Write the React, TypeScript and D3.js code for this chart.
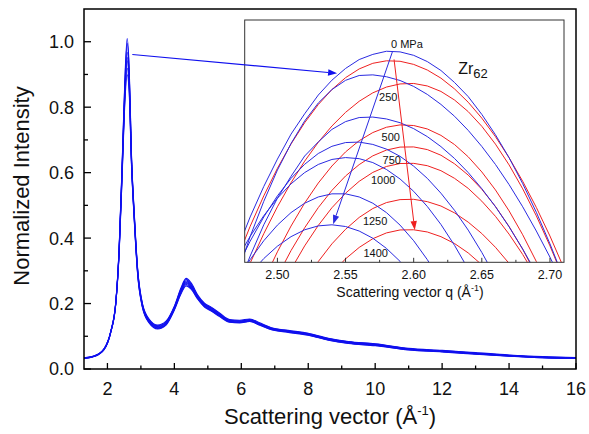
import React, { useEffect, useRef } from "react";
import * as d3 from "d3";

// main panel: scattering vector grid and normalized intensity for each pressure
const qMain = [1.3, 1.6, 1.9, 2.1, 2.25, 2.35, 2.45, 2.52, 2.59, 2.65, 2.72, 2.8, 2.9, 3.05, 3.25, 3.5, 3.75, 4.0, 4.2, 4.35, 4.5, 4.7, 4.9, 5.1, 5.35, 5.65, 5.95, 6.25, 6.55, 6.9, 7.4, 8.0, 8.6, 9.2, 10, 11, 12, 13, 14, 15, 16];
const main0 = [0.034, 0.040, 0.062, 0.115, 0.205, 0.370, 0.660, 0.880, 1.010, 0.920, 0.650, 0.480, 0.310, 0.198, 0.152, 0.134, 0.146, 0.192, 0.248, 0.277, 0.263, 0.226, 0.201, 0.189, 0.171, 0.151, 0.149, 0.153, 0.141, 0.126, 0.118, 0.109, 0.094, 0.084, 0.077, 0.063, 0.057, 0.050, 0.043, 0.038, 0.035];
const main250 = [0.034, 0.040, 0.062, 0.115, 0.204, 0.368, 0.655, 0.870, 0.995, 0.910, 0.645, 0.476, 0.307, 0.196, 0.150, 0.132, 0.144, 0.190, 0.245, 0.273, 0.259, 0.223, 0.199, 0.187, 0.169, 0.149, 0.147, 0.151, 0.139, 0.125, 0.117, 0.108, 0.093, 0.083, 0.076, 0.062, 0.056, 0.049, 0.042, 0.037, 0.034];
const main500 = [0.033, 0.039, 0.061, 0.114, 0.203, 0.365, 0.648, 0.855, 0.968, 0.895, 0.640, 0.472, 0.304, 0.194, 0.148, 0.130, 0.142, 0.188, 0.242, 0.269, 0.256, 0.221, 0.197, 0.185, 0.167, 0.148, 0.146, 0.150, 0.138, 0.124, 0.116, 0.107, 0.092, 0.082, 0.075, 0.061, 0.055, 0.048, 0.041, 0.036, 0.034];
const main750 = [0.033, 0.039, 0.061, 0.114, 0.202, 0.362, 0.642, 0.845, 0.952, 0.882, 0.635, 0.468, 0.301, 0.192, 0.146, 0.128, 0.140, 0.186, 0.239, 0.265, 0.253, 0.219, 0.195, 0.183, 0.165, 0.146, 0.144, 0.148, 0.137, 0.123, 0.115, 0.106, 0.091, 0.081, 0.074, 0.060, 0.054, 0.047, 0.041, 0.036, 0.033];
const main1000 = [0.033, 0.039, 0.060, 0.113, 0.201, 0.360, 0.636, 0.838, 0.942, 0.872, 0.630, 0.465, 0.298, 0.190, 0.144, 0.126, 0.138, 0.184, 0.236, 0.262, 0.250, 0.217, 0.193, 0.181, 0.163, 0.145, 0.143, 0.147, 0.136, 0.122, 0.114, 0.105, 0.090, 0.080, 0.073, 0.060, 0.054, 0.047, 0.040, 0.035, 0.033];
const main1250 = [0.033, 0.038, 0.060, 0.113, 0.200, 0.357, 0.628, 0.825, 0.919, 0.858, 0.625, 0.461, 0.295, 0.188, 0.142, 0.124, 0.136, 0.182, 0.233, 0.258, 0.247, 0.215, 0.191, 0.179, 0.162, 0.144, 0.142, 0.146, 0.135, 0.121, 0.113, 0.104, 0.089, 0.079, 0.072, 0.059, 0.053, 0.046, 0.040, 0.035, 0.032];
const main1400 = [0.032, 0.038, 0.059, 0.112, 0.199, 0.354, 0.620, 0.812, 0.899, 0.845, 0.620, 0.458, 0.292, 0.186, 0.140, 0.122, 0.134, 0.180, 0.230, 0.254, 0.244, 0.213, 0.189, 0.177, 0.160, 0.143, 0.141, 0.145, 0.134, 0.120, 0.112, 0.103, 0.088, 0.078, 0.071, 0.058, 0.052, 0.045, 0.039, 0.034, 0.032];

// inset: first peak, compression (blue) and decompression (red)
const qInset = [2.47, 2.48, 2.49, 2.50, 2.51, 2.52, 2.53, 2.54, 2.55, 2.56, 2.57, 2.58, 2.59, 2.60, 2.61, 2.62, 2.63, 2.64, 2.65, 2.66, 2.67, 2.68, 2.69, 2.70, 2.71, 2.72];
const blue0 = [0.882, 0.904, 0.9235, 0.941, 0.957, 0.970, 0.982, 0.9915, 0.999, 1.0047, 1.008, 1.010, 1.0096, 1.0074, 1.0034, 0.9977, 0.990, 0.981, 0.9696, 0.9566, 0.9419, 0.9253, 0.907, 0.8868, 0.8648, 0.841];
const blue250 = [0.866, 0.8915, 0.914, 0.934, 0.951, 0.9654, 0.9769, 0.9855, 0.9914, 0.9945, 0.9949, 0.9937, 0.9913, 0.9875, 0.9824, 0.976, 0.9684, 0.9594, 0.9491, 0.9376, 0.9247, 0.9105, 0.895, 0.8783, 0.8602, 0.8408];
const blue500 = [0.857, 0.879, 0.899, 0.916, 0.930, 0.943, 0.952, 0.960, 0.965, 0.9676, 0.9679, 0.9667, 0.9643, 0.9605, 0.9554, 0.949, 0.9414, 0.9324, 0.9221, 0.9106, 0.8977, 0.8835, 0.868, 0.8513, 0.833, 0.814];
const blue750 = [0.871, 0.8885, 0.904, 0.9175, 0.9287, 0.9377, 0.9446, 0.9492, 0.9516, 0.9519, 0.9504, 0.9474, 0.9428, 0.9365, 0.9287, 0.9192, 0.9082, 0.8956, 0.8813, 0.8655, 0.848, 0.829, 0.8084, 0.786, 0.762, 0.737];
const blue1000 = [0.8764, 0.8916, 0.9048, 0.916, 0.9252, 0.9324, 0.9376, 0.9408, 0.942, 0.9413, 0.9388, 0.9344, 0.9283, 0.9204, 0.9107, 0.8992, 0.8858, 0.8707, 0.8538, 0.835, 0.8146, 0.792, 0.768, 0.742, 0.7145, 0.685];
const blue1250 = [0.8627, 0.8767, 0.8888, 0.8988, 0.9068, 0.9128, 0.9168, 0.9188, 0.9188, 0.9168, 0.9128, 0.9068, 0.8988, 0.8888, 0.8767, 0.8627, 0.8468, 0.8288, 0.8088, 0.7868, 0.7628, 0.7368, 0.7088, 0.6788, 0.6468, 0.6128];
const blue1400 = [0.8562, 0.8677, 0.8774, 0.8853, 0.8914, 0.8958, 0.8983, 0.899, 0.8979, 0.895, 0.8904, 0.8839, 0.8756, 0.8655, 0.8536, 0.84, 0.8245, 0.807, 0.788, 0.767, 0.7446, 0.72, 0.6938, 0.6657, 0.6358, 0.6042];
const red0 = [0.8763, 0.898, 0.9175, 0.9351, 0.9507, 0.9643, 0.9759, 0.9855, 0.9931, 0.9987, 1.0023, 1.0039, 1.0036, 1.0016, 0.998, 0.9928, 0.9859, 0.9774, 0.9672, 0.9554, 0.9419, 0.9268, 0.9101, 0.8918, 0.8717, 0.8501];
const red250 = [0.854, 0.8745, 0.8933, 0.9105, 0.9259, 0.9397, 0.9518, 0.9622, 0.9709, 0.978, 0.9834, 0.9871, 0.9891, 0.9894, 0.9878, 0.9843, 0.9788, 0.9714, 0.962, 0.9506, 0.9373, 0.922, 0.9047, 0.8855, 0.8644, 0.8412];
const red500 = [0.8208, 0.843, 0.8633, 0.8817, 0.8982, 0.9129, 0.9257, 0.9366, 0.9456, 0.9528, 0.958, 0.9614, 0.9629, 0.9625, 0.9603, 0.9562, 0.9503, 0.9425, 0.9328, 0.9213, 0.9079, 0.8926, 0.8755, 0.8565, 0.8357, 0.813];
const red750 = [0.8057, 0.8276, 0.8477, 0.866, 0.8825, 0.8971, 0.91, 0.921, 0.9302, 0.9375, 0.9431, 0.9468, 0.9487, 0.9488, 0.9471, 0.9435, 0.938, 0.9308, 0.9217, 0.9107, 0.8979, 0.8833, 0.8668, 0.8485, 0.8284, 0.8064];
const red1000 = [0.792, 0.8144, 0.835, 0.8537, 0.8705, 0.8855, 0.8986, 0.9099, 0.9192, 0.9268, 0.9325, 0.9363, 0.9382, 0.9383, 0.9368, 0.9336, 0.9287, 0.9223, 0.9141, 0.9044, 0.893, 0.88, 0.8653, 0.849, 0.831, 0.8114];
const red1250 = [0.7689, 0.7913, 0.8119, 0.8306, 0.8474, 0.8624, 0.8755, 0.8868, 0.8961, 0.9037, 0.9094, 0.9132, 0.9151, 0.9153, 0.9138, 0.911, 0.9066, 0.9007, 0.8934, 0.8846, 0.8743, 0.8626, 0.8493, 0.8346, 0.8184, 0.8007];
const red1400 = [0.7527, 0.7746, 0.7947, 0.813, 0.8295, 0.8441, 0.857, 0.868, 0.8772, 0.8845, 0.8901, 0.8938, 0.8957, 0.8958, 0.8944, 0.8914, 0.887, 0.881, 0.8734, 0.8644, 0.8538, 0.8417, 0.8281, 0.813, 0.7964, 0.7782];

// pressure labels inside the inset (inset data coords)
const pressureLabels = ["0 MPa", "250", "500", "750", "1000", "1250", "1400"];
const labelQ = [2.595, 2.5813, 2.5832, 2.5839, 2.5776, 2.5717, 2.5721];
const labelI = [1.0146, 0.9807, 0.9553, 0.9404, 0.9276, 0.9014, 0.881];

const mainTicksX = [2, 4, 6, 8, 10, 12, 14, 16];
const mainMinorX = [3, 5, 7, 9, 11, 13, 15];
const mainTicksY = [0, 0.2, 0.4, 0.6, 0.8, 1.0];
const mainMinorY = [0.1, 0.3, 0.5, 0.7, 0.9];
const insetTicksX = [2.5, 2.55, 2.6, 2.65, 2.7];
const insetMinorX = [2.525, 2.575, 2.625, 2.675];

export default function App() {
  const svgRef = useRef<SVGSVGElement | null>(null);

  useEffect(() => {
    const W = 589;
    const H = 434;
    const font = "'Liberation Sans', Arial, sans-serif";
    const svg = d3.select(svgRef.current);
    svg.selectAll("*").remove();

    const margin = { top: 9, right: 13, bottom: 65, left: 84 };
    const x = d3.scaleLinear().domain([1.3, 16]).range([margin.left, W - margin.right]);
    const y = d3.scaleLinear().domain([0, 1.1]).range([H - margin.bottom, margin.top]);

    const blue = "#1010ee";
    const blueInset = "#2a2ae0";
    const redInset = "#ee2020";

    svg.append("rect").attr("width", W).attr("height", H).attr("fill", "#fff");

    // main curves
    const mainSeries = [main0, main250, main500, main750, main1000, main1250, main1400];
    const line = d3.line<number>()
      .x((d, i) => x(qMain[i]))
      .y((d) => y(d))
      .curve(d3.curveMonotoneX);
    svg.append("g").selectAll("path")
      .data(mainSeries)
      .join("path")
      .attr("d", (d) => line(d))
      .attr("fill", "none")
      .attr("stroke", blue)
      .attr("stroke-width", 1.1);

    // main frame and ticks
    const x0 = margin.left, x1 = W - margin.right, y0 = H - margin.bottom, y1 = margin.top;
    svg.append("rect")
      .attr("x", x0).attr("y", y1).attr("width", x1 - x0).attr("height", y0 - y1)
      .attr("fill", "none").attr("stroke", "#000").attr("stroke-width", 1.5);

    const axis = svg.append("g").attr("stroke", "#000").attr("stroke-width", 1.3);
    axis.selectAll(".mx").data(mainTicksX).join("line")
      .attr("x1", (d) => x(d)).attr("x2", (d) => x(d)).attr("y1", y0).attr("y2", y0 - 6);
    axis.selectAll(".mmx").data(mainMinorX).join("line")
      .attr("x1", (d) => x(d)).attr("x2", (d) => x(d)).attr("y1", y0).attr("y2", y0 - 3.5);
    axis.selectAll(".my").data(mainTicksY).join("line")
      .attr("x1", x0).attr("x2", x0 + 7).attr("y1", (d) => y(d)).attr("y2", (d) => y(d));
    axis.selectAll(".mmy").data(mainMinorY).join("line")
      .attr("x1", x0).attr("x2", x0 + 4).attr("y1", (d) => y(d)).attr("y2", (d) => y(d));

    svg.append("g").selectAll("text").data(mainTicksX).join("text")
      .attr("x", (d) => x(d)).attr("y", 395)
      .attr("text-anchor", "middle")
      .style("font-family", font).style("font-size", "18px").attr("fill", "#111")
      .text((d) => String(d));
    svg.append("g").selectAll("text").data(mainTicksY).join("text")
      .attr("x", x0 - 10).attr("y", (d) => y(d)).attr("dy", "0.36em")
      .attr("text-anchor", "end")
      .style("font-family", font).style("font-size", "18px").attr("fill", "#111")
      .text((d) => d.toFixed(1));

    const xl = svg.append("text")
      .attr("x", 330).attr("y", 424).attr("text-anchor", "middle")
      .style("font-family", font).style("font-size", "22px").attr("fill", "#111");
    xl.append("tspan").text("Scattering vector (Å");
    xl.append("tspan").attr("dy", -9).style("font-size", "13px").text("-1");
    xl.append("tspan").attr("dy", 9).text(")");

    svg.append("text")
      .attr("transform", `translate(29,${(y0 + y1) / 2 - 3}) rotate(-90)`)
      .attr("text-anchor", "middle")
      .style("font-family", font).style("font-size", "22px").attr("fill", "#111")
      .text("Normalized Intensity");

    // inset
    const ix = d3.scaleLinear().domain([2.476, 2.7103]).range([244.7, 564]);
    const iy = d3.scaleLinear().domain([0.875, 1.03]).range([262.3, 20]);
    const [ix0, ix1] = ix.range();
    const [iy0, iy1] = iy.range();

    svg.append("rect")
      .attr("x", ix0).attr("y", iy1).attr("width", ix1 - ix0).attr("height", iy0 - iy1)
      .attr("fill", "#fff");

    svg.append("clipPath").attr("id", "insetClip")
      .append("rect")
      .attr("x", ix0).attr("y", iy1).attr("width", ix1 - ix0).attr("height", iy0 - iy1);

    const iline = d3.line<number>()
      .x((d, i) => ix(qInset[i]))
      .y((d) => iy(d));

    const blueSeries = [blue0, blue250, blue500, blue750, blue1000, blue1250, blue1400];
    const redSeries = [red0, red250, red500, red750, red1000, red1250, red1400];
    const ig = svg.append("g").attr("clip-path", "url(#insetClip)");
    ig.selectAll(".red").data(redSeries).join("path")
      .attr("d", (d) => iline(d))
      .attr("fill", "none").attr("stroke", redInset).attr("stroke-width", 1);
    ig.selectAll(".blue").data(blueSeries).join("path")
      .attr("d", (d) => iline(d))
      .attr("fill", "none").attr("stroke", blueInset).attr("stroke-width", 1);

    svg.append("rect")
      .attr("x", ix0).attr("y", iy1).attr("width", ix1 - ix0).attr("height", iy0 - iy1)
      .attr("fill", "none").attr("stroke", "#333").attr("stroke-width", 1);

    const iaxis = svg.append("g").attr("stroke", "#333").attr("stroke-width", 1);
    iaxis.selectAll(".ix").data(insetTicksX).join("line")
      .attr("x1", (d) => ix(d)).attr("x2", (d) => ix(d)).attr("y1", iy0).attr("y2", iy0 - 4.5);
    iaxis.selectAll(".imx").data(insetMinorX).join("line")
      .attr("x1", (d) => ix(d)).attr("x2", (d) => ix(d)).attr("y1", iy0).attr("y2", iy0 - 2.5);

    svg.append("g").selectAll("text").data(insetTicksX).join("text")
      .attr("x", (d) => ix(d)).attr("y", 278.5)
      .attr("text-anchor", "middle")
      .style("font-family", font).style("font-size", "12.5px").attr("fill", "#111")
      .text((d) => d.toFixed(2));

    const il = svg.append("text")
      .attr("x", 410).attr("y", 297).attr("text-anchor", "middle")
      .style("font-family", font).style("font-size", "14px").attr("fill", "#111");
    il.append("tspan").text("Scattering vector q (Å");
    il.append("tspan").attr("dy", -6).style("font-size", "9px").text("-1");
    il.append("tspan").attr("dy", 6).text(")");

    // pressure labels
    svg.append("g").selectAll("text").data(pressureLabels).join("text")
      .attr("x", (d, i) => ix(labelQ[i]))
      .attr("y", (d, i) => iy(labelI[i]))
      .attr("dy", "0.35em")
      .attr("text-anchor", "middle")
      .style("font-family", font).style("font-size", "11px").attr("fill", "#111")
      .text((d) => d);

    const zr = svg.append("text")
      .attr("x", ix(2.6327)).attr("y", iy(0.9954))
      .style("font-family", font).style("font-size", "16px").attr("fill", "#111");
    zr.append("tspan").text("Zr");
    zr.append("tspan").attr("dy", 4).style("font-size", "13px").text("62");

    // arrows
    const arrow = (ax: number, ay: number, bx: number, by: number, color: string, w: number) => {
      const ang = Math.atan2(by - ay, bx - ax);
      const len = 9;
      const hw = 3.2;
      const cx = bx - len * Math.cos(ang);
      const cy = by - len * Math.sin(ang);
      svg.append("line")
        .attr("x1", ax).attr("y1", ay).attr("x2", cx).attr("y2", cy)
        .attr("stroke", color).attr("stroke-width", w);
      const pts = [
        [bx, by],
        [cx + hw * Math.sin(ang), cy - hw * Math.cos(ang)],
        [cx - hw * Math.sin(ang), cy + hw * Math.cos(ang)],
      ];
      svg.append("polygon")
        .attr("points", pts.map((p) => p.join(",")).join(" "))
        .attr("fill", color);
    };
    arrow(x(2.744), y(0.961), ix(2.5438), iy(0.9959), blue, 1.2);
    arrow(ix(2.5844), iy(1.0097), ix(2.5409), iy(0.8994), blueInset, 1);
    arrow(ix(2.5856), iy(1.0048), ix(2.6008), iy(0.8956), redInset, 1);
  }, []);

  return (
    <svg
      ref={svgRef}
      width={589}
      height={434}
      style={{ position: "absolute", left: 0, top: 0, display: "block" }}
    />
  );
}
